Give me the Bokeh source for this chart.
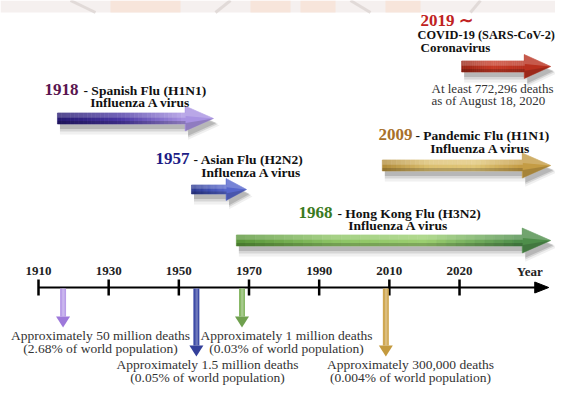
import numpy as np
from bokeh.plotting import figure
from bokeh.models import Range1d
from bokeh.core.properties import value
from bokeh.embed import file_html
from bokeh.resources import INLINE

# ---------------- data ----------------
tick_years = [1910, 1930, 1950, 1970, 1990, 2010, 2020]
tick_labels = ["1910", "1930", "1950", "1970", "1990", "2010", "2020"]
title_year = 2030          # where the "Year" label sits
axis_end_year = 2033       # tip of the time axis / open-ended arrows
axis_title = "Year"

event_years = ["1918", "1957", "1968", "2009"]
event_names = ["- Spanish Flu (H1N1)", "- Asian Flu (H2N2)",
               "- Hong Kong Flu (H3N2)", "- Pandemic Flu (H1N1)"]
event_virus = ["Influenza A virus"] * 4
span_start = [1915.4, 1953.6, 1966.4, 2008.0]
span_end = [1959.9, 1969.3, 2033, 2033]
marker_year = [1917, 1955, 1968, 2009]
death_lines = ["Approximately 50 million deaths", "Approximately 1.5 million deaths",
               "Approximately 1 million deaths", "Approximately 300,000 deaths"]
share_lines = ["(2.68% of world population)", "(0.05% of world population)",
               "(0.03% of world population)", "(0.004% of world population)"]

covid_year = "2019 \u223c"
covid_name = "COVID-19 (SARS-CoV-2)"
covid_virus = "Coronavirus"
covid_start, covid_end = 2020.3, 2033
covid_note = ["At least 772,296 deaths", "as of August 18, 2020"]

# ---------------- scale: evenly spaced tick slots ----------------
slot_years = tick_years + [2030]
slot_idx = list(range(len(slot_years)))


def X(year):
    if year > slot_years[-1]:
        return slot_idx[-1] + (year - slot_years[-1]) / 10.0
    return float(np.interp(year, slot_years, slot_idx))


PX = 70.17          # pixels per slot
X0 = 38.0           # pixel of first tick


def XP(px):
    return (px - X0) / PX


W, H = 555, 385
p = figure(width=W, height=H, output_backend="svg", toolbar_location=None,
           x_range=Range1d(XP(0), XP(W)), y_range=Range1d(H, 0),
           min_border=0, outline_line_color=None, background_fill_color="white",
           border_fill_color="white")
p.axis.visible = False
p.grid.visible = False

SERIF = value("Liberation Serif")

# faint watermark band at the very top
p.quad(left=XP(0), right=XP(W), top=0, bottom=12, fill_color="#f5f0ef", line_color=None)
p.quad(left=[XP(110), XP(250), XP(300), XP(385)], right=[XP(180), XP(290), XP(335), XP(420)],
       top=[0, 0, 0, 0], bottom=[12, 12, 12, 12], fill_color="#f8dccb", fill_alpha=0.55,
       line_color=None)
p.segment(x0=[XP(70), XP(230), XP(350), XP(480)], y0=[0, 0, 0, 0],
          x1=[XP(95), XP(215), XP(370), XP(470)], y1=[12, 12, 12, 12],
          line_color="#dcd4d2", line_width=3, line_alpha=0.8)


def lerp_colors(stops, n):
    rgb = np.array([[int(s[i:i + 2], 16) for i in (1, 3, 5)] for s in stops], float)
    t = np.linspace(0, 1, n)
    pos = np.linspace(0, 1, len(stops))
    out = []
    for tt in t:
        c = [np.interp(tt, pos, rgb[:, k]) for k in range(3)]
        out.append("#%02x%02x%02x" % tuple(int(round(v)) for v in c))
    return out


def harrow(x0, x1, yc, stops, sh=5.0, hh=12.0, hl=28.0, n=30):
    xh = x1 - hl / PX
    # soft shadow
    for dy, a, g in [(7, 0.08, 3.5), (5.5, 0.14, 2.0), (4.5, 0.2, 0.5)]:
        dx = 2.5 / PX
        xs = [x0 + dx, xh + dx, xh + dx, x1 + dx + g / PX, xh + dx, xh + dx, x0 + dx]
        ys = [yc + dy - sh - g / 2, yc + dy - sh - g / 2, yc + dy - hh, yc + dy,
              yc + dy + hh + g / 2, yc + dy + sh + g, yc + dy + sh + g]
        p.patch(xs, ys, fill_color="#3a3a3a", fill_alpha=a, line_color=None)
    edges = np.linspace(x0, xh, n + 1)
    cols = lerp_colors(stops, n)
    p.quad(left=edges[:-1], right=edges[1:], top=yc - sh, bottom=yc + sh,
           fill_color=cols, line_color=cols, line_width=0.6)
    p.patch([xh - 0.5 / PX, x1, xh - 0.5 / PX], [yc - hh, yc, yc + hh],
            fill_color=stops[-1], line_color=stops[-1], line_width=0.5)
    # highlights and shading
    p.quad(left=x0, right=xh, top=yc - sh, bottom=yc - sh * 0.15,
           fill_color="white", fill_alpha=0.22, line_color=None)
    p.quad(left=x0, right=xh, top=yc + sh * 0.45, bottom=yc + sh,
           fill_color="black", fill_alpha=0.18, line_color=None)
    p.patch([xh, x1, xh], [yc - hh, yc, yc - hh * 0.2],
            fill_color="white", fill_alpha=0.2, line_color=None)
    p.patch([xh, x1, xh], [yc + hh * 0.35, yc, yc + hh],
            fill_color="black", fill_alpha=0.15, line_color=None)


def varrow(x, y0, y1, color, head, w=6.0, hw=14.0, hl=11.0):
    hwx = w / 2 / PX
    p.quad(left=x - hwx, right=x + hwx, top=y0, bottom=y1 - hl,
           fill_color=color, line_color=None)
    p.quad(left=x - hwx * 0.3, right=x + hwx * 0.5, top=y0, bottom=y1 - hl,
           fill_color="white", fill_alpha=0.25, line_color=None)
    p.patch([x - hw / 2 / PX, x + hw / 2 / PX, x], [y1 - hl, y1 - hl, y1],
            fill_color=head, line_color=None)


# ---------------- horizontal duration arrows ----------------
arrow_rows = [118, 189, 240, 165]
arrow_stops = [
    ["#271a72", "#4a37a4", "#a892e2"],
    ["#2b3890", "#3c4cb0", "#5666cc"],
    ["#5a963a", "#8cc464", "#9ccf70", "#4e8e4a"],
    ["#b48f3c", "#dcc070", "#e0c677", "#c49c44"],
]
arrow_dims = [(5.5, 12.5, 28), (4.5, 11, 20), (5.5, 12.5, 28), (5.5, 12.5, 28)]
for i in range(4):
    sh, hh, hl = arrow_dims[i]
    harrow(X(span_start[i]), X(span_end[i]), arrow_rows[i], arrow_stops[i], sh, hh, hl)
harrow(X(covid_start), X(covid_end), 66, ["#9a2414", "#c83a26", "#b8301e"], 5.5, 12, 26)

# ---------------- headings ----------------
year_colors = ["#5a1550", "#1c1c86", "#3a7a22", "#a8702a"]
head_xy = [(44, 89), (155, 158), (298, 212), (378, 134)]
name_x = [83, 193, 337, 415]
virus_xy = [(140, 102), (251, 172), (398, 225), (480, 148)]
for i in range(4):
    hx, hy = head_xy[i]
    p.text(x=[XP(hx)], y=[hy], text=[event_years[i]], text_font=SERIF,
           text_font_style="bold", text_font_size="17px", text_color=year_colors[i],
           text_align="left", text_baseline="middle")
    p.text(x=[XP(name_x[i])], y=[hy + 0.5], text=[event_names[i]], text_font=SERIF,
           text_font_style="bold", text_font_size="13.5px", text_color="#111111",
           text_align="left", text_baseline="middle")
    vx, vy = virus_xy[i]
    p.text(x=[XP(vx)], y=[vy], text=[event_virus[i]], text_font=SERIF,
           text_font_style="bold", text_font_size="13.5px", text_color="#111111",
           text_align="center", text_baseline="middle")

p.text(x=[XP(420)], y=[20], text=[covid_year], text_font=SERIF, text_font_style="bold",
       text_font_size="17px", text_color="#c02222", text_align="left", text_baseline="middle")
p.text(x=[XP(417)], y=[34], text=[covid_name], text_font=SERIF, text_font_style="bold",
       text_font_size="12.3px", text_color="#111111", text_align="left", text_baseline="middle")
p.text(x=[XP(420)], y=[46.5], text=[covid_virus], text_font=SERIF, text_font_style="bold",
       text_font_size="13px", text_color="#111111", text_align="left", text_baseline="middle")
p.text(x=[XP(431), XP(431)], y=[88, 100], text=covid_note, text_font=SERIF,
       text_font_size="13px", text_color="#333333", text_align="left", text_baseline="middle")

# ---------------- timeline ----------------
TL = 287
tip = X(axis_end_year) - 2 / PX
p.segment(x0=[X(tick_years[0])], y0=[TL], x1=[tip - 8 / PX], y1=[TL],
          line_color="black", line_width=2)
p.patch([tip - 14 / PX, tip, tip - 14 / PX], [TL - 5.5, TL, TL + 5.5],
        fill_color="black", line_color="black")
tx = [X(t) for t in tick_years]
p.segment(x0=tx, y0=[TL - 8] * len(tx), x1=tx, y1=[TL + 8] * len(tx),
          line_color="black", line_width=2.5)
p.text(x=tx, y=[270] * len(tx), text=tick_labels, text_font=SERIF, text_font_style="bold",
       text_font_size="13px", text_color="#222222", text_align="center", text_baseline="middle")
p.text(x=[X(title_year)], y=[271], text=[axis_title], text_font=SERIF,
       text_font_style="bold", text_font_size="13px", text_color="#222222",
       text_align="center", text_baseline="middle")

# ---------------- death markers ----------------
stem_colors = [("#b99ee8", "#9d78da"), ("#3d4ba6", "#34409a"),
               ("#88b866", "#6fa04e"), ("#cfa752", "#c49a3e")]
stem_tip = [327, 356, 327, 356]
for i in range(4):
    varrow(X(marker_year[i]), TL + 1, stem_tip[i], stem_colors[i][0], stem_colors[i][1])

death_xy = [(100, 335), (207, 364), (286, 335), (410, 364)]
for i in range(4):
    dx, dy = death_xy[i]
    p.text(x=[XP(dx), XP(dx)], y=[dy, dy + 13], text=[death_lines[i], share_lines[i]],
           text_font=SERIF, text_font_size="13.5px", text_color="#333333",
           text_align="center", text_baseline="middle")

open("out.html", "w").write(file_html(p, INLINE))
